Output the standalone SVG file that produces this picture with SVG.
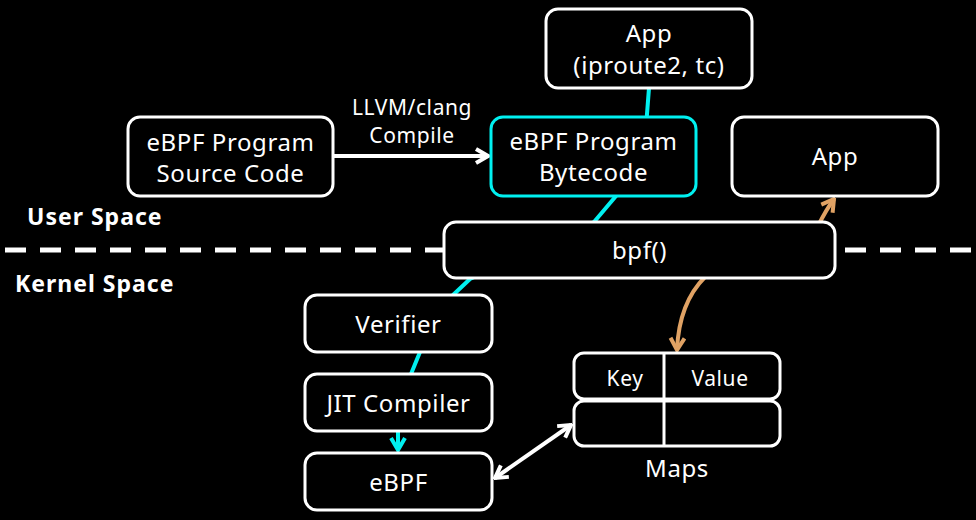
<svg xmlns="http://www.w3.org/2000/svg" width="976" height="520" viewBox="0 0 976 520">
<style>
.box{fill:#000;stroke:#fff;stroke-width:3}
.cy{fill:#000;stroke:#00F0F0;stroke-width:3}
text{font-family:"Noto Sans","Open Sans",sans-serif;fill:#fff;text-anchor:middle;letter-spacing:0.6px}
.t{font-size:24px}
.s{font-size:21px}
.b{font-size:23px;font-weight:bold;text-anchor:start;letter-spacing:1px}
.wl{fill:none;stroke:#fff;stroke-width:4}
.cl{fill:none;stroke:#00F0F0;stroke-width:4;stroke-linejoin:round}
.ol{fill:none;stroke:#E0A264;stroke-width:4}
</style>
<defs>
<marker id="aw" viewBox="0 0 16 18" refX="14" refY="9" markerWidth="16" markerHeight="18" markerUnits="userSpaceOnUse" orient="auto-start-reverse"><path d="M2,2 L14,9 L2,16" fill="none" stroke="#fff" stroke-width="4" stroke-linejoin="miter"/></marker>
<marker id="ac" viewBox="0 0 16 18" refX="14" refY="9" markerWidth="16" markerHeight="18" markerUnits="userSpaceOnUse" orient="auto"><path d="M2,2 L14,9 L2,16" fill="none" stroke="#00F0F0" stroke-width="4"/></marker>
<marker id="ao" viewBox="0 0 16 18" refX="14" refY="9" markerWidth="16" markerHeight="18" markerUnits="userSpaceOnUse" orient="auto"><path d="M2,2 L14,9 L2,16" fill="none" stroke="#E0A264" stroke-width="4"/></marker>
</defs>
<rect width="976" height="520" fill="#000"/>
<line x1="5" y1="250" x2="976" y2="250" stroke="#fff" stroke-width="5" stroke-dasharray="21 14"/>
<g id="connectors">
<path class="cl" d="M649,88 L645,140 L616,196 L594,222 L500,265 L470,279 L453,295 L430,330 L420,352 L411,374 L402,400 L398,431 L398,450" marker-end="url(#ac)"/>
<path class="wl" d="M334,156 L488,156" marker-end="url(#aw)"/>
<path class="wl" d="M495,478 L571,425" marker-start="url(#aw)" marker-end="url(#aw)"/>
<path class="ol" d="M818,226 Q826,210 834,199" marker-end="url(#ao)"/>
<path class="ol" d="M705,277 Q679,303 677,350" marker-end="url(#ao)"/>
</g>
<g id="app-iproute2"><rect class="box" x="546" y="9" width="206" height="79" rx="12"/><text class="t" x="649" y="42">App</text><text class="t" x="649" y="74">(iproute2, tc)</text></g>
<g id="source"><rect class="box" x="128" y="117" width="205" height="79" rx="12"/><text class="t" x="230.5" y="151">eBPF Program</text><text class="t" x="230.5" y="182">Source Code</text></g>
<g id="bytecode"><rect class="cy" x="491" y="117" width="205" height="79" rx="12"/><text class="t" x="593.5" y="150">eBPF Program</text><text class="t" x="593.5" y="181">Bytecode</text></g>
<g id="app"><rect class="box" x="732" y="117" width="206" height="79" rx="12"/><text class="t" x="835" y="165">App</text></g>
<g id="bpf"><rect class="box" x="444" y="222" width="391" height="56" rx="12"/><text class="t" x="639.5" y="259">bpf()</text></g>
<g id="verifier"><rect class="box" x="305" y="295" width="187" height="57" rx="12"/><text class="t" x="398.5" y="333">Verifier</text></g>
<g id="jit"><rect class="box" x="305" y="374" width="187" height="57" rx="12"/><text class="t" x="398.5" y="412">JIT Compiler</text></g>
<g id="ebpf"><rect class="box" x="305" y="453" width="187" height="57" rx="12"/><text class="t" x="398.5" y="491">eBPF</text></g>
<g id="maps">
<rect class="box" x="574" y="353" width="206" height="46" rx="10"/>
<rect class="box" x="574" y="401" width="206" height="45" rx="10"/>
<line x1="664" y1="353" x2="664" y2="446" stroke="#fff" stroke-width="3"/>
<text class="s" x="625" y="386">Key</text><text class="s" x="720" y="386">Value</text>
<text class="t" x="677" y="477">Maps</text>
</g>
<text class="b" x="27" y="225">User Space</text>
<text class="b" x="15" y="292">Kernel Space</text>
<text class="s" x="412" y="115">LLVM/clang</text>
<text class="s" x="412" y="143">Compile</text>
</svg>
